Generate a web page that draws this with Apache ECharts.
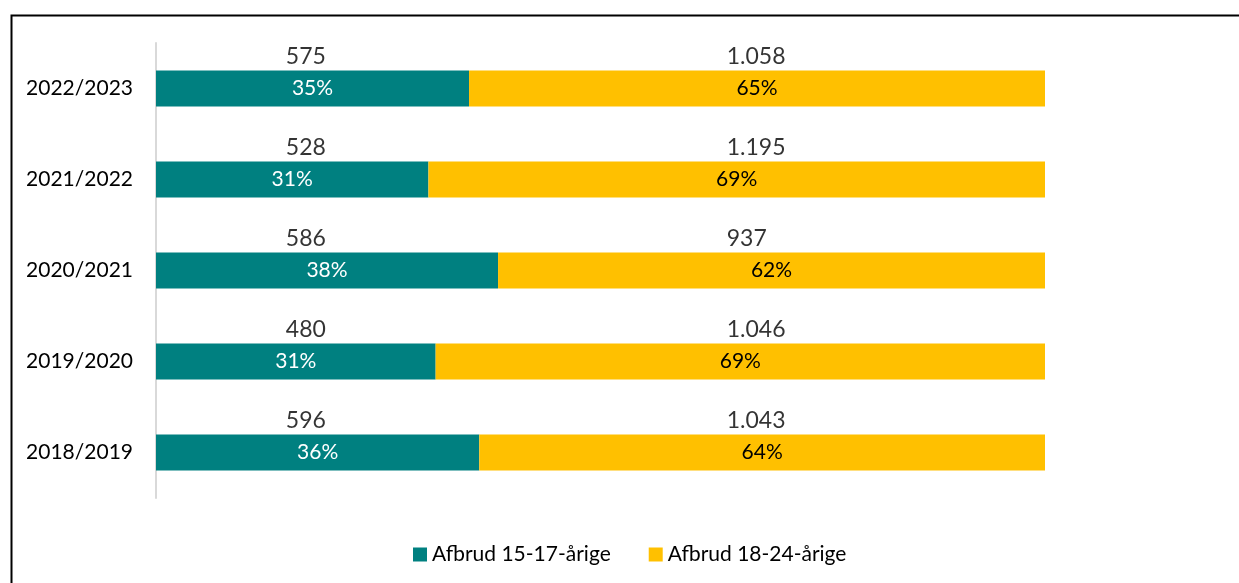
<!DOCTYPE html>
<html>
<head>
<meta charset="utf-8">
<script src="https://cdn.jsdelivr.net/npm/echarts@6/dist/echarts.min.js"></script>
<style>
html,body{margin:0;padding:0;background:#fff;}
#main{width:1239px;height:583px;}
</style>
</head>
<body>
<div id="main"></div>
<script>
const categories = ['2022/2023', '2021/2022', '2020/2021', '2019/2020', '2018/2019'];
const seriesNames = ['Afbrud 15-17-årige', 'Afbrud 18-24-årige'];
const counts1517 = [575, 528, 586, 480, 596];
const counts1824 = [1058, 1195, 937, 1046, 1043];
const countLabels1517 = ['575', '528', '586', '480', '596'];
const countLabels1824 = ['1.058', '1.195', '937', '1.046', '1.043'];
const pctLabels1517 = ['35%', '31%', '38%', '31%', '36%'];
const pctLabels1824 = ['65%', '69%', '62%', '69%', '64%'];

const FONT = 'Lato';
const totals = counts1517.map((v, i) => v + counts1824[i]);
const share1517 = counts1517.map((v, i) => v / totals[i] * 100);
const share1824 = counts1824.map((v, i) => v / totals[i] * 100);

// label anchor (in % of axis) for the count text boxes
const COUNT_ANCHOR_1517 = 14.6;
const COUNT_ANCHOR_1824 = 64.2;

function pctLabel(labels, color) {
  return {
    show: true, position: 'inside', textBorderWidth: 0, textBorderColor: 'transparent',
    formatter: p => '{p|' + labels[p.dataIndex] + '}',
    rich: { p: { color: color, fontSize: 21, fontFamily: FONT, lineHeight: 26, textBorderWidth: 0 } }
  };
}
function countSeries(anchor, labels) {
  return {
    type: 'scatter', silent: true, symbolSize: 0,
    itemStyle: { color: '#000' },
    data: categories.map(c => [anchor, c]),
    label: {
      show: true, position: 'inside', offset: [0, -32], align: 'left', verticalAlign: 'middle',
      textBorderWidth: 0, textBorderColor: 'transparent',
      formatter: p => '{c|' + labels[p.dataIndex] + '}',
      rich: { c: { color: '#000', fontSize: 23, fontFamily: FONT, lineHeight: 28, textBorderWidth: 0 } }
    },
    z: 5
  };
}

const chart = echarts.init(document.getElementById('main'), null, { renderer: 'canvas' });
chart.setOption({
  animation: false,
  textStyle: { fontFamily: FONT },
  graphic: [{
    type: 'rect', left: 9, top: 13, silent: true,
    shape: { width: 1300, height: 700 },
    style: { fill: 'none', stroke: '#000', lineWidth: 2 }
  }],
  grid: { left: 156, right: 194, top: 43, bottom: 85, containLabel: false },
  xAxis: { type: 'value', min: 0, max: 100, show: false },
  yAxis: {
    type: 'category', data: categories, inverse: true,
    axisLine: { show: true, lineStyle: { color: '#d9d9d9', width: 2 } },
    axisTick: { show: false },
    axisLabel: { color: '#000', fontSize: 21, fontFamily: FONT, margin: 23 }
  },
  legend: {
    left: 408, top: 539, icon: 'rect', itemWidth: 14, itemHeight: 14, itemGap: 38,
    textStyle: { color: '#000', fontSize: 21, fontFamily: FONT },
    data: seriesNames
  },
  series: [
    {
      name: seriesNames[0], type: 'bar', stack: 'a', data: share1517,
      barWidth: 36, itemStyle: { color: '#008080' },
      label: pctLabel(pctLabels1517, '#fff')
    },
    {
      name: seriesNames[1], type: 'bar', stack: 'a', data: share1824,
      barWidth: 36, itemStyle: { color: '#FFC000' },
      label: pctLabel(pctLabels1824, '#000')
    },
    countSeries(COUNT_ANCHOR_1517, countLabels1517),
    countSeries(COUNT_ANCHOR_1824, countLabels1824)
  ]
});
</script>
</body>
</html>
